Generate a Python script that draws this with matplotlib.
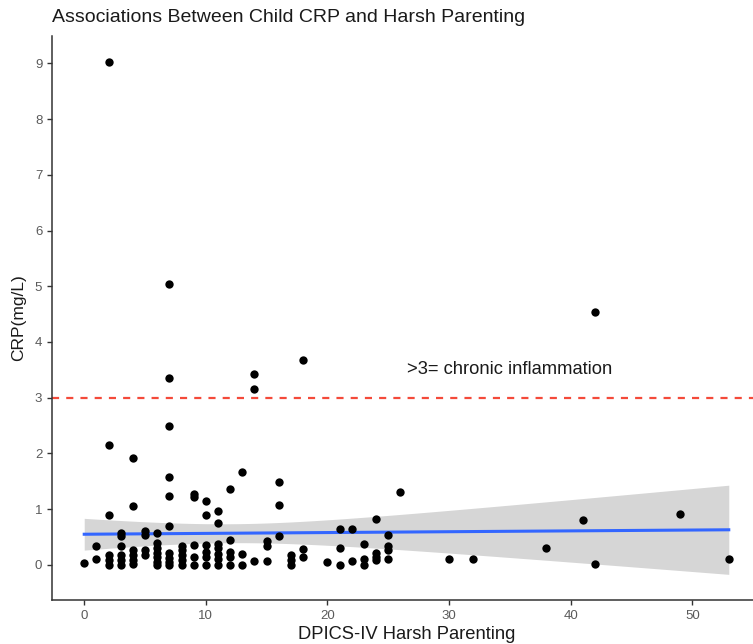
import matplotlib.pyplot as plt
import numpy as np

# DPICS-IV harsh parenting score (x) and child CRP in mg/L (y), read per column
harsh_parenting = (
    [0]
    + [1] * 2
    + [2] * 6
    + [3] * 6
    + [4] * 6
    + [5] * 4
    + [6] * 7
    + [7] * 10
    + [8] * 5
    + [9] * 5
    + [10] * 6
    + [11] * 7
    + [12] * 5
    + [13] * 3
    + [14] * 3
    + [15] * 3
    + [16] * 3
    + [17] * 3
    + [18] * 3
    + [20]
    + [21] * 3
    + [22] * 2
    + [23] * 3
    + [24] * 4
    + [25] * 4
    + [26]
    + [30, 32, 38, 41]
    + [42] * 2
    + [49, 53]
)
crp = (
    [0.04]
    + [0.33, 0.10]
    + [9.03, 2.15, 0.90, 0.18, 0.09, 0.0]
    + [0.58, 0.51, 0.34, 0.18, 0.09, 0.0]
    + [1.91, 1.06, 0.27, 0.18, 0.09, 0.01]
    + [0.61, 0.54, 0.27, 0.17]
    + [0.58, 0.40, 0.31, 0.22, 0.14, 0.06, 0.0]
    + [5.04, 3.35, 2.49, 1.57, 1.24, 0.70, 0.22, 0.13, 0.06, 0.0]
    + [0.34, 0.26, 0.18, 0.09, 0.0]
    + [1.28, 1.21, 0.36, 0.15, 0.0]
    + [1.15, 0.90, 0.36, 0.24, 0.14, 0.0]
    + [0.96, 0.75, 0.38, 0.30, 0.20, 0.11, 0.0]
    + [1.37, 0.45, 0.24, 0.15, 0.0]
    + [1.66, 0.20, 0.0]
    + [3.42, 3.15, 0.07]
    + [0.42, 0.33, 0.07]
    + [1.48, 1.08, 0.51]
    + [0.18, 0.09, 0.0]
    + [3.67, 0.28, 0.15]
    + [0.05]
    + [0.64, 0.30, 0.0]
    + [0.64, 0.07]
    + [0.38, 0.11, 0.0]
    + [0.83, 0.22, 0.14, 0.09]
    + [0.54, 0.33, 0.27, 0.11]
    + [1.30]
    + [0.11, 0.11, 0.30, 0.80]
    + [4.54, 0.01]
    + [0.91, 0.11]
)

# lm smoother as drawn in the picture: line ends and 95% band half-widths
fit_at_start = 0.55
fit_at_end = 0.63
band_half_min = 0.17
band_half_end = 0.80
band_center = 12

threshold = 3
threshold_label = ">3= chronic inflammation"

x = np.array(harsh_parenting, dtype=float)
y = np.array(crp, dtype=float)

grid = np.linspace(x.min(), x.max(), 200)
slope = (fit_at_end - fit_at_start) / (x.max() - x.min())
fit = fit_at_start + slope * (grid - x.min())
k = (band_half_end ** 2 - band_half_min ** 2) / (x.max() - band_center) ** 2
half = np.sqrt(band_half_min ** 2 + k * (grid - band_center) ** 2)

plt.rcParams["font.family"] = ["Liberation Sans", "DejaVu Sans"]

fig = plt.figure(figsize=(7.53, 6.44), dpi=100)
ax = fig.add_axes([52 / 753, 44 / 644, 709 / 753, 564 / 644])

ax.fill_between(grid, fit - half, fit + half, color="#d6d6d6", linewidth=0, zorder=1)
ax.plot(grid, fit, color="#3366ff", linewidth=2.2, zorder=3)
ax.scatter(x, y, s=36, color="black", linewidths=0, zorder=4)
ax.axhline(threshold, color="#f44a3a", linewidth=1.6, dashes=(3.2, 3.2), zorder=2)
ax.text(35, 3.5, threshold_label, ha="center", va="center", fontsize=13.2, color="#1a1a1a")

lo = min(y.min(), (fit - half).min())
hi = max(y.max(), (fit + half).max())
pad_y = (hi - lo) * 0.05
pad_x = (x.max() - x.min()) * 0.05
ax.set_xlim(x.min() - pad_x, x.max() + pad_x)
ax.set_ylim(lo - pad_y, hi + pad_y)
ax.set_xticks([0, 10, 20, 30, 40, 50])
ax.set_yticks(range(0, 10))

for side in ["top", "right"]:
    ax.spines[side].set_visible(False)
for side in ["left", "bottom"]:
    ax.spines[side].set_color("#333333")
    ax.spines[side].set_linewidth(1.1)
ax.tick_params(colors="#333333", labelcolor="#5a5a5a", labelsize=9.5, length=3.5, width=1)

ax.set_xlabel("DPICS-IV Harsh Parenting", fontsize=13.2, color="#1a1a1a", labelpad=3)
ax.set_ylabel("CRP(mg/L)", fontsize=12.5, color="#1a1a1a", labelpad=6)
fig.text(52 / 753, 1 - 18 / 644, "Associations Between Child CRP and Harsh Parenting",
         fontsize=14, color="#1a1a1a", ha="left", va="center")

fig.savefig("out.png", dpi=100)
